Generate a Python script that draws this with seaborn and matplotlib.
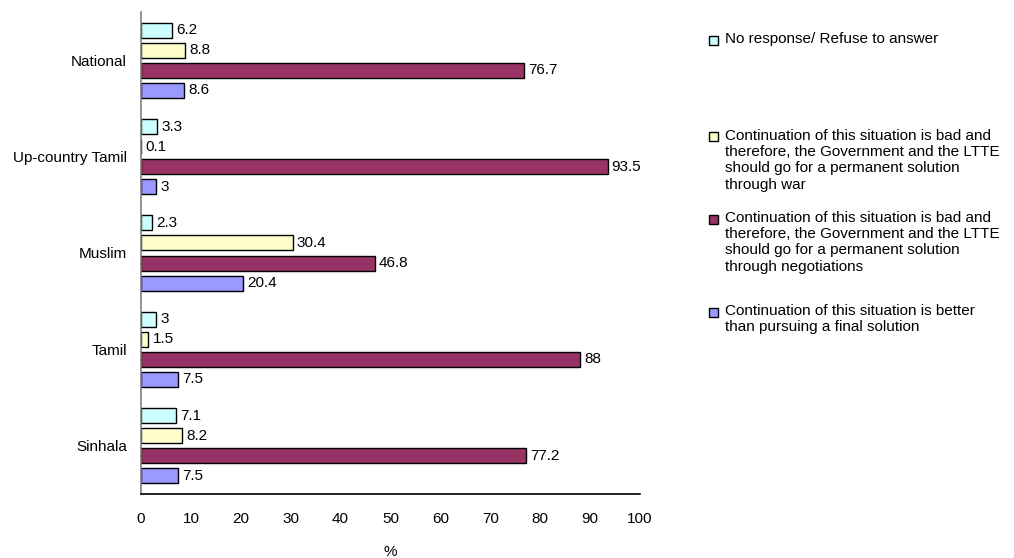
import pandas as pd
import seaborn as sns
import matplotlib.pyplot as plt
from matplotlib.patches import Rectangle
from matplotlib.ticker import FixedLocator

# Data
groups = ["National", "Up-country Tamil", "Muslim", "Tamil", "Sinhala"]
responses = [
    "No response/ Refuse to answer",
    "Continuation of this situation is bad and\ntherefore, the Government and the LTTE\nshould go for a permanent solution\nthrough war",
    "Continuation of this situation is bad and\ntherefore, the Government and the LTTE\nshould go for a permanent solution\nthrough negotiations",
    "Continuation of this situation is better\nthan pursuing a final solution",
]
no_response = [6.2, 3.3, 2.3, 3.0, 7.1]
war = [8.8, 0.1, 30.4, 1.5, 8.2]
negotiations = [76.7, 93.5, 46.8, 88.0, 77.2]
better = [8.6, 3.0, 20.4, 7.5, 7.5]
colors = ["#CCFFFF", "#FFFFCC", "#993366", "#9999FF"]

# Long-form table for seaborn
rows = []
for resp, vals in zip(responses, [no_response, war, negotiations, better]):
    for g, v in zip(groups, vals):
        rows.append({"Group": g, "Response": resp, "Value": v})
df = pd.DataFrame(rows)

sns.set_style("white")
plt.rcParams["font.family"] = ["Liberation Sans", "DejaVu Sans"]
plt.rcParams["text.color"] = "black"
plt.rcParams["xtick.color"] = "black"
plt.rcParams["ytick.color"] = "black"
plt.rcParams["axes.labelcolor"] = "black"

W, H = 1014, 558
fig = plt.figure(figsize=(W / 100, H / 100), dpi=100)
ax = fig.add_axes([141 / W, 1 - 494 / H, (640 - 141) / W, (494 - 12) / H])

sns.barplot(
    data=df, y="Group", x="Value", hue="Response",
    order=groups, hue_order=responses, palette=colors,
    orient="h", width=0.83, gap=0.25,
    edgecolor="black", linewidth=1, saturation=1, legend=False, ax=ax,
)

for cont in ax.containers:
    ax.bar_label(cont, labels=[f"{b.get_width():g}" for b in cont],
                 padding=3, fontsize=11, color="black")

ax.set_xlim(0, 100)
ax.set_ylim(len(groups) - 0.5, -0.5)
ax.set_xticks(range(0, 101, 10))
ax.tick_params(axis="x", direction="out", length=5, width=1,
               labelsize=11, pad=8)
ax.tick_params(axis="y", which="major", length=0, labelsize=11, pad=10)
ax.yaxis.set_minor_locator(FixedLocator([i - 0.5 for i in range(len(groups) + 1)]))
ax.tick_params(axis="y", which="minor", direction="out", length=4, width=1, color="#808080")
ax.set_xlabel("%", fontsize=11, labelpad=14)
ax.set_ylabel("")

for s in ["top", "right"]:
    ax.spines[s].set_visible(False)
ax.spines["left"].set_color("#808080")
ax.spines["bottom"].set_color("black")
ax.spines["left"].set_linewidth(1.2)
ax.spines["bottom"].set_linewidth(1.2)

# Legend drawn like the original (marker aligned with the first line)
leg_y = [40, 137, 219, 312]
for resp, col, yc in zip(responses, colors, leg_y):
    fig.add_artist(Rectangle((709 / W, 1 - (yc + 4.5) / H), 9 / W, 9 / H,
                             transform=fig.transFigure, facecolor=col,
                             edgecolor="black", linewidth=1))
    fig.text(725 / W, 1 - (yc - 8) / H, resp, ha="left", va="top",
             fontsize=11, linespacing=1.2)

plt.savefig("out.png", dpi=100)
